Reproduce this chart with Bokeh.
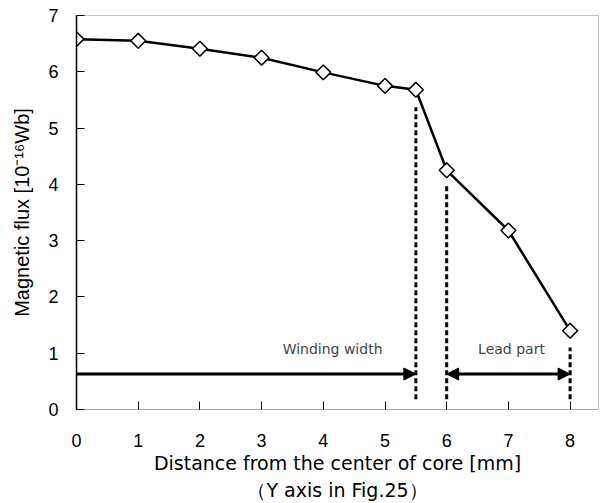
from bokeh.plotting import figure
from bokeh.models import Range1d, FixedTicker, Arrow, NormalHead, Label
from bokeh.embed import file_html
from bokeh.resources import INLINE

# Magnetic flux along the Y axis of the core
distance_mm = [0, 1, 2, 3, 4, 5, 5.5, 6, 7, 8]
flux = [6.58, 6.55, 6.41, 6.25, 5.99, 5.75, 5.68, 4.25, 3.18, 1.40]

x_ticks = [0, 1, 2, 3, 4, 5, 6, 7, 8]
y_ticks = [0, 1, 2, 3, 4, 5, 6, 7]

# region boundaries (mm)
winding_end = 5.5
lead_start = 6.0
lead_end = 8.0

TEXT_FONT = "DejaVu Sans"
NUM_FONT = "Liberation Sans"

p = figure(width=603, height=503, frame_width=522, frame_height=394,
           output_backend="svg", toolbar_location=None,
           x_range=Range1d(0, 8.46), y_range=Range1d(0, 7),
           min_border_left=76, min_border_right=5, min_border_top=15,
           min_border_bottom=94)

p.grid.visible = False
p.outline_line_color = "#888888"
p.outline_line_dash = "1 1"
p.outline_line_width = 1
p.background_fill_color = "white"
p.border_fill_color = "white"

for ax in (p.xaxis[0], p.yaxis[0]):
    ax.major_tick_in = 8
    ax.major_tick_out = 0
    ax.minor_tick_line_color = None
    ax.major_tick_line_color = "black"
    ax.major_tick_line_width = 1
    ax.major_label_text_font = NUM_FONT
    ax.major_label_text_font_size = "18px"
    ax.major_label_text_color = "black"
    ax.axis_label_text_font_style = "normal"
    ax.axis_label_text_color = "black"

p.xaxis.ticker = FixedTicker(ticks=x_ticks)
p.yaxis.ticker = FixedTicker(ticks=y_ticks)
p.xaxis.major_label_standoff = 24
p.yaxis.major_label_standoff = 18
p.xaxis.axis_line_color = "#888888"
p.xaxis.axis_line_dash = "1 1"
p.yaxis.axis_line_color = "black"
p.yaxis.axis_line_width = 1.5

p.xaxis.axis_label = "Distance from the center of core [mm]\n（Y axis in Fig.25）"
p.xaxis.axis_label_text_font = TEXT_FONT
p.xaxis.axis_label_text_font_size = "19px"
p.xaxis.axis_label_standoff = 2
p.xaxis.axis_label_text_line_height = 1.25

p.yaxis.axis_label = "Magnetic flux [10⁻¹⁶Wb]"
p.yaxis.axis_label_text_font = NUM_FONT
p.yaxis.axis_label_text_font_size = "20px"
p.yaxis.axis_label_standoff = 12

# dashed boundary markers
for xb, ytop in ((winding_end, 5.37), (lead_start, 3.98), (lead_end, 1.1)):
    p.line([xb, xb], [0.18, ytop], line_color="black", line_width=3, line_dash="5 3")

# measured curve
p.line(distance_mm, flux, line_color="black", line_width=2.5)
p.scatter(distance_mm, flux, marker="square", angle=0.785398, size=10.5,
          fill_color="white", line_color="black", line_width=1.5)

# region arrows
head = dict(size=12, fill_color="black", line_color="black")
p.add_layout(Arrow(end=NormalHead(**head),
                   x_start=0, y_start=0.63, x_end=winding_end, y_end=0.63,
                   line_width=3, line_color="black"))
p.add_layout(Arrow(start=NormalHead(**head), end=NormalHead(**head),
                   x_start=lead_start, y_start=0.63, x_end=lead_end, y_end=0.63,
                   line_width=3, line_color="black"))

p.add_layout(Label(x=4.15, y=1.07, text="Winding width", text_font=TEXT_FONT,
                   text_font_size="14px", text_align="center", text_baseline="middle"))
p.add_layout(Label(x=7.05, y=1.07, text="Lead part", text_font=TEXT_FONT,
                   text_font_size="14px", text_align="center", text_baseline="middle"))

open("out.html", "w").write(file_html(p, INLINE))
